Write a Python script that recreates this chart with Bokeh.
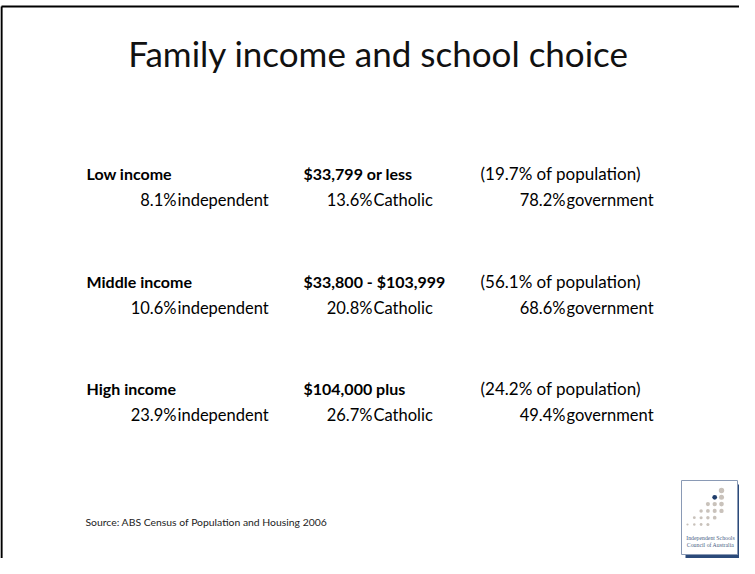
from bokeh.plotting import figure
from bokeh.models import Range1d
from bokeh.core.properties import value
from bokeh.embed import file_html
from bokeh.resources import INLINE

# ---- data ----
title_text = "Family income and school choice"
groups = ["Low income", "Middle income", "High income"]
ranges = ["$33,799 or less", "$33,800 - $103,999", "$104,000 plus"]
population = [19.7, 56.1, 24.2]
independent = [8.1, 10.6, 23.9]
catholic = [13.6, 20.8, 26.7]
government = [78.2, 68.6, 49.4]
sector_labels = ["independent", "Catholic", "government"]
source_text = "Source: ABS Census of Population and Housing 2006"
logo_lines = ["Independent Schools", "Council of Australia"]

W, H = 739, 558
FONT = "Lato"
p = figure(width=W, height=H, output_backend="svg", toolbar_location=None,
           x_range=Range1d(0, W), y_range=Range1d(H, 0),
           min_border=0, outline_line_color=None)
p.axis.visible = False
p.grid.visible = False
p.background_fill_color = "white"
p.border_fill_color = "white"

O = 8  # page margin offset (reference coords -> figure coords)

# frame (left and top edges)
p.segment(x0=[9 - O, 9 - O], y0=[14 - O, 14 - O], x1=[9 - O, W + 5], y1=[H + 5, 14 - O],
          line_color="black", line_width=2.2)

# title
p.text(x=[386 - O], y=[60 - O], text=[title_text], text_font=value(FONT),
       text_font_size="35px", text_align="center", text_baseline="middle", text_color="#111111")

# rows
row_gap = 107.5
lab_y = [181 - O + k * row_gap for k in range(3)]
val_y = [207.5 - O + k * row_gap for k in range(3)]

col_x = [94 - O, 311 - O, 488 - O]
p.text(x=[col_x[0]] * 3, y=lab_y, text=groups, text_font=value(FONT), text_font_style="bold",
       text_font_size="16px", text_baseline="middle", text_color="black")
p.text(x=[col_x[1]] * 3, y=lab_y, text=ranges, text_font=value(FONT), text_font_style="bold",
       text_font_size="16px", text_baseline="middle", text_color="black")
p.text(x=[col_x[2]] * 3, y=lab_y, text=[f"({v}% of population)" for v in population],
       text_font=value(FONT), text_font_size="17px", text_baseline="middle", text_color="black")

num_end = [184 - O, 380 - O, 573 - O]
for j, series in enumerate([independent, catholic, government]):
    p.text(x=[num_end[j]] * 3, y=val_y, text=[f"{v}%" for v in series], text_font=value(FONT),
           text_font_size="16.5px", text_align="right", text_baseline="middle", text_color="black")
    p.text(x=[num_end[j] + 1] * 3, y=val_y, text=[sector_labels[j]] * 3, text_font=value(FONT),
           text_font_size="16.5px", text_align="left", text_baseline="middle", text_color="black")

# source
p.text(x=[93 - O], y=[529 - O], text=[source_text], text_font=value(FONT),
       text_font_size="10.4px", text_baseline="middle", text_color="#222222")

# logo
bx0, by0, bx1, by1 = 689 - O, 488 - O, 745 - O, 562 - O
p.quad(left=[bx0 + 4], right=[bx1 + 5], top=[by0 + 4], bottom=[by1 + 4],
       fill_color="#2b4a7a", line_color=None)
p.quad(left=[bx0], right=[bx1], top=[by0], bottom=[by1],
       fill_color="white", line_color="#8a9ab5", line_width=1)
xs, ys, rs, cols = [], [], [], []
tx, ty, step = 729 - O, 498 - O, 6.8
for k in range(6):
    for j in range(min(k, 3) + 1):
        xs.append(tx - step * k + step * j)
        ys.append(ty + step * k)
        rs.append(max(0.9, 2.7 - 0.32 * k + 0.15 * j))
        cols.append("#1f3d6b" if (k == 1 and j == 0) else "#c9c2bb")
p.circle(x=xs, y=ys, radius=rs, fill_color=cols, line_color=None)
p.text(x=[(bx0 + bx1) / 2 + 1] * 2, y=[by1 - 17, by1 - 10], text=logo_lines,
       text_font=value("Liberation Serif"), text_font_size="5.8px", text_align="center",
       text_baseline="middle", text_color="#4a5f85")

open("out.html", "w").write(file_html(p, INLINE))
